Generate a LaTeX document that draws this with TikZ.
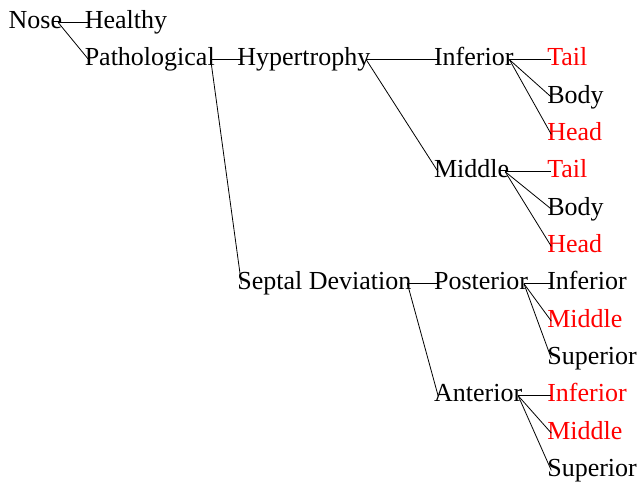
\documentclass[tikz,border=0pt]{standalone}
\usepackage{fontspec}
\setmainfont{Liberation Serif}
\usetikzlibrary{matrix}

\begin{document}
\begin{tikzpicture}[x=1pt,y=1pt]
  \useasboundingbox (0,0) rectangle (479.25,-363.75);
  \matrix (m) [matrix of nodes, row sep=9pt, column sep=14.5pt,
    nodes={anchor=west, inner sep=0pt, outer xsep=-3pt, text height=14pt, text depth=5pt,
      font=\fontsize{19.5}{23}\selectfont},
    matrix anchor=m-1-1.base west] at (9.5,-21.3)
  {
Nose &[2.5pt] Healthy &[2.5pt] &[2.5pt] & \\
 & Pathological & Hypertrophy & Inferior & |[red]| Tail \\
 & & & & Body \\
 & & & & |[red]| Head \\
 & & & Middle & |[red]| Tail \\
 & & & & Body \\
 & & & & |[red]| Head \\
 & & Septal Deviation & Posterior & Inferior \\
 & & & & |[red]| Middle \\
 & & & & Superior \\
 & & & Anterior & |[red]| Inferior \\
 & & & & |[red]| Middle \\
 & & & & Superior \\
};
  \path[line width=0.6pt]
  (m-1-1.east) edge (m-1-2.west)
  (m-1-1.east) edge (m-2-2.west)
  (m-2-2.east) edge (m-2-3.west)
  (m-2-2.east) edge (m-8-3.west)
  (m-2-3.east) edge (m-2-4.west)
  (m-2-3.east) edge (m-5-4.west)
  (m-2-4.east) edge (m-2-5.west)
  (m-2-4.east) edge (m-3-5.west)
  (m-2-4.east) edge (m-4-5.west)
  (m-5-4.east) edge (m-5-5.west)
  (m-5-4.east) edge (m-6-5.west)
  (m-5-4.east) edge (m-7-5.west)
  (m-8-3.east) edge (m-8-4.west)
  (m-8-3.east) edge (m-11-4.west)
  (m-8-4.east) edge (m-8-5.west)
  (m-8-4.east) edge (m-9-5.west)
  (m-8-4.east) edge (m-10-5.west)
  (m-11-4.east) edge (m-11-5.west)
  (m-11-4.east) edge (m-12-5.west)
  (m-11-4.east) edge (m-13-5.west)
  ;
\end{tikzpicture}
\end{document}
